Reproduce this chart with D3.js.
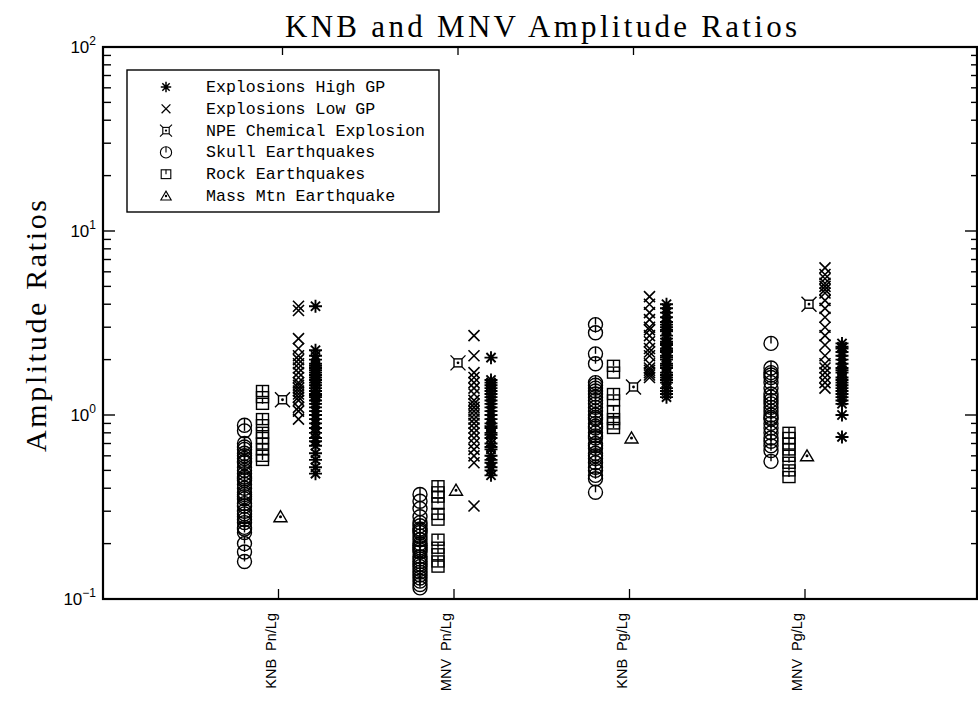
<!DOCTYPE html>
<html><head><meta charset="utf-8">
<script src="https://cdn.jsdelivr.net/npm/d3@7"></script>
<style>body{margin:0;background:#fff}</style>
</head><body>
<svg id="c" width="978" height="702"></svg>
<script>
// ---------- data ----------
const categories = ["KNB  Pn/Lg", "MNV  Pn/Lg", "KNB  Pg/Lg", "MNV  Pg/Lg"];
const seriesNames = ["Explosions High GP", "Explosions Low GP", "NPE Chemical Explosion",
                     "Skull Earthquakes", "Rock Earthquakes", "Mass Mtn Earthquake"];
const yTickValues = [0.1, 1, 10, 100];
const yTickExponents = ["-1", "0", "1", "2"];

// one array per category for each series
const highGP = [
  [3.9, 2.25, 2.1, 2.0, 1.9, 1.85, 1.8, 1.75, 1.7, 1.65, 1.6, 1.55, 1.5, 1.45, 1.4, 1.35, 1.3, 1.28, 1.25, 1.2, 1.15, 1.1, 1.05, 1.0, 0.95, 0.9, 0.85, 0.8, 0.75, 0.72, 0.68, 0.62, 0.57, 0.52, 0.48],
  [2.05, 1.55, 1.5, 1.45, 1.4, 1.35, 1.3, 1.25, 1.2, 1.15, 1.1, 1.05, 1.0, 0.95, 0.9, 0.87, 0.85, 0.8, 0.78, 0.75, 0.7, 0.67, 0.65, 0.6, 0.57, 0.55, 0.52, 0.5, 0.47],
  [4.0, 3.8, 3.6, 3.4, 3.2, 3.1, 3.0, 2.9, 2.85, 2.7, 2.6, 2.5, 2.45, 2.4, 2.3, 2.25, 2.2, 2.1, 2.05, 2.0, 1.9, 1.85, 1.8, 1.7, 1.65, 1.6, 1.55, 1.5, 1.4, 1.35, 1.3, 1.25],
  [2.45, 2.35, 2.3, 2.2, 2.1, 2.0, 1.9, 1.8, 1.75, 1.7, 1.6, 1.55, 1.5, 1.45, 1.4, 1.35, 1.3, 1.25, 1.2, 1.15, 1.0, 0.76]
];
const lowGP = [
  [3.9, 3.7, 2.6, 2.3, 2.1, 2.0, 1.9, 1.8, 1.7, 1.6, 1.5, 1.45, 1.4, 1.35, 1.3, 1.25, 1.2, 1.1, 1.05, 0.95],
  [2.7, 2.1, 1.7, 1.6, 1.5, 1.4, 1.3, 1.2, 1.15, 1.1, 1.05, 1.0, 0.95, 0.9, 0.85, 0.8, 0.75, 0.7, 0.65, 0.6, 0.55, 0.32],
  [4.4, 4.0, 3.6, 3.3, 3.0, 2.9, 2.7, 2.5, 2.3, 2.2, 2.1, 1.9, 1.8, 1.75, 1.7, 1.65, 1.6],
  [6.3, 5.8, 5.5, 5.2, 5.0, 4.8, 4.6, 4.2, 3.8, 3.4, 3.0, 2.7, 2.4, 2.1, 1.9, 1.8, 1.7, 1.6, 1.5, 1.4]
];
const npe = [[1.21], [1.92], [1.42], [4.0]];
const skull = [
  [0.88, 0.82, 0.70, 0.67, 0.65, 0.62, 0.60, 0.58, 0.56, 0.55, 0.52, 0.50, 0.48, 0.46, 0.45, 0.44, 0.42, 0.40, 0.38, 0.37, 0.36, 0.35, 0.33, 0.32, 0.30, 0.29, 0.28, 0.27, 0.26, 0.245, 0.24, 0.23, 0.20, 0.18, 0.16],
  [0.37, 0.34, 0.31, 0.28, 0.26, 0.25, 0.24, 0.235, 0.23, 0.22, 0.21, 0.20, 0.195, 0.19, 0.185, 0.18, 0.17, 0.165, 0.16, 0.155, 0.15, 0.145, 0.14, 0.135, 0.13, 0.125, 0.12, 0.115],
  [3.1, 2.8, 2.15, 1.9, 1.5, 1.45, 1.4, 1.35, 1.3, 1.25, 1.2, 1.15, 1.1, 1.05, 1.0, 0.97, 0.95, 0.9, 0.87, 0.85, 0.8, 0.77, 0.75, 0.7, 0.68, 0.66, 0.62, 0.6, 0.58, 0.55, 0.52, 0.5, 0.47, 0.45, 0.38],
  [2.45, 1.8, 1.7, 1.65, 1.6, 1.5, 1.4, 1.3, 1.25, 1.2, 1.15, 1.1, 1.05, 1.0, 0.97, 0.95, 0.9, 0.85, 0.8, 0.75, 0.72, 0.68, 0.64, 0.56]
];
const rock = [
  [1.35, 1.25, 1.15, 0.95, 0.88, 0.80, 0.75, 0.70, 0.65, 0.60, 0.57],
  [0.41, 0.38, 0.36, 0.33, 0.29, 0.27, 0.21, 0.19, 0.175, 0.16, 0.15],
  [1.85, 1.7, 1.3, 1.2, 1.05, 0.95, 0.9, 0.85],
  [0.8, 0.75, 0.7, 0.65, 0.6, 0.55, 0.5, 0.46]
];
const massMtn = [[0.28], [0.39], [0.75], [0.6]];

// ---------- styling / layout ----------
const svg = d3.select("#c");
const frame = {left: 103, right: 977, top: 47, bottom: 599};
const x = d3.scaleLinear().domain([0, 5]).range([frame.left, frame.left + 5 * 175.5]);
const y = d3.scaleLog().domain([0.1, 100]).range([frame.bottom, frame.top]);

const seriesDefs = [
  {name: seriesNames[0], data: highGP, sym: "star",   dx: 37},
  {name: seriesNames[1], data: lowGP,  sym: "x",      dx: 20},
  {name: seriesNames[2], data: npe,    sym: "npe",    dx: 4},
  {name: seriesNames[3], data: skull,  sym: "circle", dx: -34},
  {name: seriesNames[4], data: rock,   sym: "square", dx: -16},
  {name: seriesNames[5], data: massMtn,sym: "tri",    dx: 2}
];

function drawSymbol(g, sym) {
  const s = g.attr("fill", "none").attr("stroke", "#000").attr("stroke-width", 1.4);
  if (sym === "star") {
    const r = 6.5, d = r * Math.SQRT1_2;
    s.append("path").attr("d", `M${-r},0H${r}M0,${-r}V${r}M${-d},${-d}L${d},${d}M${-d},${d}L${d},${-d}`).attr("stroke-width", 1.9);
  } else if (sym === "x") {
    const r = 5.5;
    s.append("path").attr("d", `M${-r},${-r}L${r},${r}M${-r},${r}L${r},${-r}`).attr("stroke-width", 1.6);
  } else if (sym === "npe") {
    const a = 4, b = 7.5;
    s.append("rect").attr("x", -a).attr("y", -a).attr("width", 2 * a).attr("height", 2 * a);
    s.append("path").attr("d", `M${-a},${-a}L${-b},${-b}M${a},${-a}L${b},${-b}M${-a},${a}L${-b},${b}M${a},${a}L${b},${b}`);
    s.append("circle").attr("r", 0.7).attr("fill", "#000");
  } else if (sym === "circle") {
    s.append("circle").attr("r", 7);
    s.append("path").attr("d", "M0,-7V0");
  } else if (sym === "square") {
    s.append("rect").attr("x", -6).attr("y", -5.5).attr("width", 12).attr("height", 11);
    s.append("path").attr("d", "M0,-5.5V0");
  } else if (sym === "tri") {
    s.append("path").attr("d", "M-6.5,5L0,-6L6.5,5Z");
    s.append("circle").attr("r", 0.8).attr("fill", "#000");
  }
}

// ---------- title ----------
svg.append("text").attr("x", 285).attr("y", 37)
  .attr("font-family", "Liberation Serif, serif").attr("font-size", 31)
  .attr("textLength", 512).attr("lengthAdjust", "spacing")
  .text("KNB and MNV Amplitude Ratios");

// ---------- y label ----------
svg.append("text").attr("transform", "translate(46,452) rotate(-90)")
  .attr("font-family", "Liberation Serif, serif").attr("font-size", 30)
  .attr("textLength", 252).attr("lengthAdjust", "spacing")
  .text("Amplitude Ratios");

// ---------- axes ----------
const minorVals = [];
for (let e = -1; e < 2; e++) for (let m = 2; m < 10; m++) minorVals.push(m * Math.pow(10, e));

const axG = svg.append("g").attr("stroke", "#000");
axG.selectAll(".lmin").data(minorVals).join("line")
  .attr("x1", frame.left).attr("x2", frame.left + 8)
  .attr("y1", d => y(d)).attr("y2", d => y(d)).attr("stroke-width", 1.4);
axG.selectAll(".lmaj").data(yTickValues).join("line")
  .attr("x1", frame.left).attr("x2", frame.left + 12)
  .attr("y1", d => y(d)).attr("y2", d => y(d)).attr("stroke-width", 1.4);
axG.selectAll(".rmin").data(minorVals).join("line")
  .attr("x1", frame.right).attr("x2", frame.right - 6)
  .attr("y1", d => y(d)).attr("y2", d => y(d)).attr("stroke-width", 1.4);
axG.selectAll(".rmaj").data(yTickValues).join("line")
  .attr("x1", frame.right).attr("x2", frame.right - 12)
  .attr("y1", d => y(d)).attr("y2", d => y(d)).attr("stroke-width", 1.4);
axG.selectAll(".bt").data(categories).join("line")
  .attr("x1", (d, i) => x(i + 1)).attr("x2", (d, i) => x(i + 1))
  .attr("y1", frame.bottom).attr("y2", frame.bottom - 10).attr("stroke-width", 1.3);
axG.selectAll(".tt").data(categories.slice(0, 3)).join("line")
  .attr("x1", (d, i) => x(i + 1) + 4).attr("x2", (d, i) => x(i + 1) + 4)
  .attr("y1", frame.top).attr("y2", frame.top + 8).attr("stroke-width", 1.3);
svg.append("rect").attr("x", frame.left).attr("y", frame.top)
  .attr("width", frame.right - frame.left).attr("height", frame.bottom - frame.top)
  .attr("fill", "none").attr("stroke", "#000").attr("stroke-width", 2.2);

// y tick labels
const yl = svg.append("g").attr("font-family", "Liberation Sans, Arial, sans-serif").attr("fill", "#000");
yTickValues.forEach((v, i) => {
  const t = yl.append("text").attr("x", 96).attr("y", y(v) + 6).attr("text-anchor", "end");
  t.append("tspan").attr("font-size", 17).text("10");
  t.append("tspan").attr("font-size", 12).attr("dy", -8).text(yTickExponents[i].replace("-", "\u2212"));
});

// x category labels
svg.append("g").selectAll("text").data(categories).join("text")
  .attr("transform", (d, i) => `translate(${x(i + 1) - 3},613) rotate(-90)`)
  .attr("text-anchor", "end")
  .attr("font-family", "Liberation Sans, Arial, sans-serif").attr("font-size", 14.5)
  .style("white-space", "pre")
  .text(d => d);

// ---------- marks ----------
const marks = svg.append("g");
seriesDefs.forEach(sd => {
  sd.data.forEach((vals, ci) => {
    marks.append("g").selectAll("g").data(vals).join("g")
      .attr("transform", v => `translate(${x(ci + 1) + sd.dx},${y(v)})`)
      .each(function () { drawSymbol(d3.select(this), sd.sym); });
  });
});

// ---------- legend ----------
const lg = svg.append("g");
lg.append("rect").attr("x", 127).attr("y", 70).attr("width", 312).attr("height", 142)
  .attr("fill", "#fff").attr("stroke", "#000").attr("stroke-width", 1.4);
seriesDefs.forEach((sd, i) => {
  const cy = 87 + i * 21.8;
  const g = lg.append("g").attr("transform", `translate(166,${cy}) scale(0.8)`);
  drawSymbol(g, sd.sym);
  lg.append("text").attr("x", 206).attr("y", cy + 5)
    .attr("font-family", "Liberation Mono, Courier New, monospace").attr("font-size", 16.6)
    .text(sd.name);
});
</script>
</body></html>
